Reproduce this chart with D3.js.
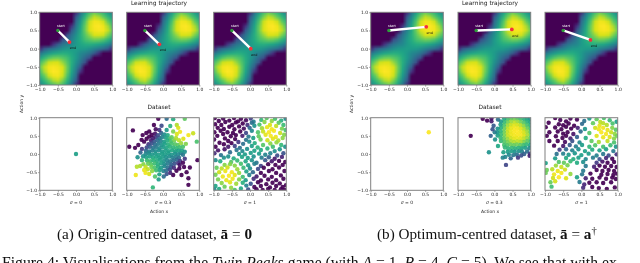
<!DOCTYPE html>
<html><head><meta charset="utf-8">
<script src="https://cdn.jsdelivr.net/npm/d3@7/dist/d3.min.js"></script>
<style>
html,body{margin:0;padding:0;background:#fff;overflow:hidden}
svg{display:block;filter:blur(0.3px)}
.ax text{font-family:"DejaVu Sans";font-size:4.5px;fill:#222}
.cap{font-family:"Liberation Serif";fill:#111}
.lab{font-family:"DejaVu Sans";fill:#222}
</style></head><body>
<svg id="c" width="640" height="263"></svg>
<script>
const tickValues=[-1,-0.5,0,0.5,1];
const upper=[
[0,0,0,0,0,0,0,0,12,38,56,69,76,70,65,55,45],
[0,0,0,0,0,0,0,0,28,48,66,80,91,87,76,67,55],
[0,0,0,0,0,0,0,0,35,54,73,92,98,97,92,76,65],
[0,0,0,0,0,0,0,14,40,59,77,94,99,100,97,87,70],
[0,0,0,0,0,0,0,28,45,61,78,94,98,99,98,91,76],
[0,0,0,0,0,0,24,38,50,63,74,84,94,94,92,80,69],
[0,0,0,0,0,24,33,43,54,62,70,74,78,77,73,66,56],
[0,0,0,14,28,38,43,47,54,59,62,63,61,59,54,48,38],
[12,28,35,40,45,50,54,55,56,55,54,50,45,40,35,28,12],
[38,48,54,59,61,63,62,59,54,47,43,38,28,14,0,0,0],
[56,66,73,77,78,74,70,62,54,43,33,24,0,0,0,0,0],
[69,80,92,94,94,84,74,63,50,38,24,0,0,0,0,0,0],
[76,91,98,99,98,94,78,61,45,28,0,0,0,0,0,0,0],
[70,87,97,100,99,94,77,59,40,14,0,0,0,0,0,0,0],
[65,76,92,97,98,92,73,54,35,0,0,0,0,0,0,0,0],
[55,67,76,87,91,80,66,48,28,0,0,0,0,0,0,0,0],
[45,55,65,70,76,69,56,38,12,0,0,0,0,0,0,0,0]];
const startPoint=[-0.5,0.5];
const endsLeft=[[-0.18,0.18],[-0.1,0.12],[0.02,0.0]];
const endsRight=[[0.53,0.6],[0.48,0.53],[0.25,0.24]];
const sigmaLabels=["0","0.3","1"];
const leftZero=[[0,0]];
const rightZero=[[0.6,0.6]];
const left03=[[-.2,.46],[-.1,.44],[-.02,.47],[.08,.45],[.18,.43],[-.33,.37],[-.24,.35],[-.15,.38],[-.06,.36],[.03,.34],[.12,.37],[.22,.35],[.31,.38],
[-.4,.27],[-.31,.29],[-.22,.26],[-.13,.28],[-.04,.25],[.05,.28],[.14,.26],[.24,.29],[.33,.27],[.41,.25],
[-.45,.18],[-.36,.2],[-.27,.17],[-.18,.19],[-.09,.16],[.01,.19],[.1,.17],[.19,.2],[.28,.18],[.37,.16],[.46,.19],
[-.47,.09],[-.38,.07],[-.29,.1],[-.2,.08],[-.11,.1],[-.02,.07],[.07,.09],[.16,.08],[.25,.1],[.34,.07],[.43,.09],
[-.48,0],[-.39,.02],[-.3,-.01],[-.21,.01],[-.12,-.02],[-.03,.01],[.06,-.01],[.15,.02],[.24,-.02],[.33,.01],[.42,-.01],[.5,.02],
[-.46,-.09],[-.37,-.07],[-.28,-.1],[-.19,-.08],[-.1,-.1],[-.01,-.08],[.08,-.09],[.17,-.07],[.26,-.1],[.35,-.08],[.44,-.1],
[-.44,-.18],[-.35,-.2],[-.26,-.17],[-.17,-.19],[-.08,-.16],[.02,-.19],[.11,-.17],[.2,-.2],[.29,-.18],[.38,-.16],[.47,-.19],
[-.41,-.27],[-.32,-.29],[-.23,-.26],[-.14,-.28],[-.05,-.25],[.04,-.28],[.13,-.26],[.23,-.29],[.32,-.27],[.42,-.25],
[-.32,-.36],[-.23,-.38],[-.14,-.35],[-.05,-.37],[.04,-.34],[.13,-.37],[.22,-.35],[.3,-.38],[-.19,-.45],[-.09,-.44],[.01,-.47],[.09,-.45],[.19,-.43],
[-.45,.42],[-.38,.48],[-.28,.44],[-.31,.53],[-.22,.56],[-.14,.52],[-.05,.58],[.04,.54],[.13,.52],[.24,.46],[.36,.44],[.44,.38],[.5,.3],
[-.52,.34],[-.59,.39],[-.56,.52],[-.68,.25],[-.77,.17],[-.93,.2],[-.83,.65],[-.58,.14],[-.62,.04],[-.55,-.06],[-.7,-.09],[-.58,-.17],[-.54,-.28],[-.48,-.36],[-.42,-.42],[-.72,-.35],[-.63,-.33],[-.75,-.58],[-.52,-.44],[-.48,-.52],[-.38,-.55],[-.3,-.47],
[-.28,-.92],[-.22,-.62],[-.1,-.56],[.02,-.62],[-.12,-.7],[.1,-.55],[.28,-.58],[.2,-.52],[.37,-.46],[.45,-.4],[.51,-.58],[.46,-.3],[.55,-.24],[.58,-.36],[.7,-.67],[.7,-.85],[.74,-.37],[.65,-.5],[.95,-.17],[.6,-.13],[.55,-.02],[.52,.1],[.6,.06],[.55,.2],[.63,.28],
[.93,.34],[.83,.57],[.7,.52],[.47,.61],[.56,.42],[.38,.55],[.1,.66],[.28,.62],[-.1,.66],[-.25,.8],[-.04,.78],[.2,.77],[.38,.8],[-.13,.97],[.1,.97],[.28,.96],[.6,.97],[-.38,.62],[-.46,.58],[-.2,.68],[.42,.72]];
const left1=[[-.97,.99],[-.86,.91],[-.74,.98],[-.57,.92],[-.44,.99],[-.33,.9],[-.25,.97],[-.11,.93],[.02,.98],[.1,.89],[.31,.94],[.46,.99],[.6,.91],[.69,.97],[.86,.92],[.98,.97],
[-.96,.82],[-.79,.8],[-.68,.88],[-.49,.8],[-.39,.87],[-.2,.84],[-.07,.8],[.05,.86],[.26,.81],[.4,.88],[.55,.8],[.79,.86],[.92,.8],
[-.89,.72],[-.72,.69],[-.57,.75],[-.43,.68],[-.3,.76],[-.17,.7],[-.01,.72],[.12,.78],[.33,.71],[.47,.74],[.6,.68],[.72,.77],[.88,.7],
[-.98,.6],[-.81,.64],[-.62,.6],[-.47,.58],[-.27,.62],[-.11,.58],[.05,.64],[.22,.6],[.36,.62],[.52,.6],[.66,.64],[.83,.58],[.98,.66],
[-.9,.5],[-.74,.55],[-.53,.49],[-.39,.52],[-.21,.5],[-.04,.48],[.24,.49],[.43,.53],[.57,.5],[.71,.47],[.94,.53],
[-.99,.4],[-.69,.43],[-.6,.36],[-.41,.41],[-.11,.39],[.09,.44],[.29,.4],[.48,.38],[.63,.42],[.78,.37],[.9,.44],
[-.84,.31],[-.72,.27],[-.51,.3],[-.32,.33],[-.19,.28],[-.02,.34],[.13,.3],[.56,.29],[.73,.32],[.86,.25],
[-.95,.2],[-.6,.2],[-.42,.22],[-.28,.17],[.05,.22],[.21,.18],[.36,.25],[.63,.2],[.97,.2],
[-.88,.1],[-.7,.13],[-.37,.11],[-.21,.08],[-.08,.14],[.12,.09],[.3,.11],[.48,.15],[.68,.08],[.82,.13],
[-.98,.02],[-.8,-.03],[-.55,.05],[-.3,0],[-.14,-.01],[.02,.03],[.25,.01],[.42,-.02],[.56,.02],[.75,-.04],[.92,.02],
[-.72,-.1],[-.6,-.07],[-.45,-.12],[-.22,-.08],[-.06,-.11],[.1,-.07],[.32,-.1],[.52,-.09],[.68,-.13],[.88,-.08],
[-.95,-.17],[-.82,-.2],[-.52,-.22],[-.35,-.18],[-.12,-.2],[.05,-.17],[.18,-.24],[.42,-.17],[.6,-.2],[.8,-.19],[.97,-.22],
[-.7,-.3],[-.55,-.28],[-.42,-.32],[-.25,-.27],[-.05,-.31],[.12,-.27],[.3,-.33],[.5,-.28],[.7,-.3],[.9,-.3],
[-.92,-.38],[-.78,-.4],[-.62,-.37],[-.35,-.42],[-.18,-.38],[0,-.4],[.22,-.41],[.38,-.38],[.62,-.42],[.8,-.37],
[-.85,-.5],[-.68,-.47],[-.5,-.5],[-.3,-.52],[-.1,-.48],[.08,-.5],[.3,-.52],[.52,-.47],[.72,-.52],[.95,-.47],
[-.95,-.57],[-.75,-.62],[-.58,-.6],[-.42,-.58],[-.2,-.63],[-.02,-.58],[.18,-.62],[.4,-.6],[.6,-.63],[.85,-.59],
[-.88,-.7],[-.65,-.72],[-.48,-.68],[-.3,-.7],[-.12,-.72],[.1,-.68],[.3,-.73],[.5,-.7],[.72,-.72],[.92,-.68],
[-.78,-.8],[-.55,-.78],[-.38,-.82],[-.2,-.79],[.02,-.82],[.22,-.78],[.45,-.83],[.62,-.79],[.82,-.81],
[-.95,-.88],[-.7,-.9],[-.52,-.93],[-.1,-.87],[.12,-.91],[.3,-.88],[.55,-.92],[.72,-.88],[.9,-.91],[.99,-.86],
[-.98,-.98],[-.85,-.96],[-.42,-.99],[-.25,-.95],[-.05,-.98],[.18,-.97],[.35,-.99],[.5,-.96],[.68,-.99],[.85,-.97],[.96,-.99]];
const right03=[[.98,.97],[.9,.98],[.82,.96],[.72,.97],[.63,.98],[.54,.96],[.45,.98],[.36,.96],[.27,.97],[.98,.88],[.9,.89],[.81,.87],[.72,.88],[.63,.89],[.54,.87],[.45,.89],[.36,.87],[.27,.88],[.18,.9],
[.98,.79],[.89,.8],[.8,.78],[.71,.79],[.62,.8],[.53,.78],[.44,.8],[.35,.78],[.26,.79],[.17,.81],[.99,.7],[.9,.71],[.81,.69],[.72,.7],[.63,.71],[.54,.69],[.45,.71],[.36,.69],[.27,.7],[.18,.72],[.09,.7],
[.98,.61],[.89,.62],[.8,.6],[.71,.61],[.62,.62],[.53,.6],[.44,.62],[.35,.6],[.26,.61],[.17,.63],[.08,.6],[.99,.52],[.9,.53],[.81,.51],[.72,.52],[.63,.53],[.54,.51],[.45,.53],[.36,.51],[.27,.52],[.18,.54],[.09,.51],
[.98,.43],[.89,.44],[.8,.42],[.71,.43],[.62,.44],[.53,.42],[.44,.44],[.35,.42],[.26,.43],[.17,.45],[.99,.34],[.9,.35],[.81,.33],[.72,.34],[.63,.35],[.54,.33],[.45,.35],[.36,.33],[.27,.34],[.18,.36],
[.98,.25],[.88,.26],[.8,.24],[.71,.25],[.62,.26],[.53,.24],[.44,.26],[.35,.24],[.27,.25],[.96,.16],[.85,.17],[.75,.15],[.66,.17],[.57,.15],[.48,.17],[.38,.15],[.29,.18],[.9,.07],[.76,.06],[.67,.08],[.56,.06],[.47,.08],[.37,.06],
[.25,.05],[.98,.01],[.82,.0],[.74,-.04],[.62,-.02],[.52,-.03],[.4,-.02],[.3,-.08],[.23,-.1],[.97,-.05],[.45,-.12],[.65,-.1],[.32,-.3],[.1,.22],[.02,.4],[.01,.6],[-.02,.78],[-.08,.9],[-.15,.05],[-.1,.5],[-.05,.68],[-.32,.97],[-.2,.92],[-.08,.98],[.1,.95],[-.65,.5]];
const right1=[[-.72,.99],[-.58,.94],[-.42,.9],[-.3,.98],[-.12,.95],[.08,.91],[.22,.98],[.42,.96],[.52,.88],[.62,.99],[.78,.93],[.97,.89],
[-.9,.86],[-.62,.82],[-.5,.79],[-.35,.84],[-.2,.78],[.02,.83],[.32,.85],[.5,.78],[.6,.85],[.7,.8],[.86,.84],
[-.98,.74],[-.72,.73],[-.55,.68],[-.42,.75],[-.28,.7],[-.1,.72],[.1,.69],[.38,.72],[.48,.68],[.6,.72],[.72,.66],[.85,.72],[.95,.67],
[-.88,.6],[-.65,.62],[-.5,.56],[-.38,.6],[-.22,.55],[-.02,.62],[.22,.58],[.55,.6],[.68,.55],[.82,.6],[.92,.55],
[-.95,.5],[-.7,.49],[-.52,.44],[-.42,.5],[-.3,.43],[-.12,.47],[.12,.44],[.42,.5],[.6,.46],[.78,.47],[.9,.43],[.98,.5],
[-.88,.36],[-.65,.36],[-.45,.33],[-.25,.36],[-.05,.32],[.28,.36],[.48,.33],[.72,.36],[.9,.32],
[-.75,.23],[-.5,.22],[-.32,.25],[-.15,.21],[.02,.25],[.22,.2],[.38,.24],[.6,.2],[.8,.24],[.95,.2],
[-.6,.12],[-.42,.13],[-.25,.1],[-.08,.13],[.1,.08],[.3,.12],[.5,.1],[.68,.13],[.88,.08],
[-.68,0],[-.5,.01],[-.35,-.02],[-.18,.02],[0,-.03],[.2,.01],[.42,-.04],[.6,0],[.75,-.04],[.97,-.01],
[-.72,-.12],[-.42,-.11],[-.22,-.14],[-.08,-.1],[.12,-.14],[.32,-.1],[.5,-.14],[.68,-.11],[.85,-.13],
[-.98,-.25],[-.62,-.22],[-.48,-.24],[-.3,-.2],[-.12,-.24],[.05,-.22],[.42,-.24],[.58,-.21],[.72,-.24],[.9,-.22],
[-.7,-.32],[-.55,-.36],[-.38,-.31],[.12,-.33],[.35,-.35],[.5,-.32],[.65,-.35],[.82,-.33],[.97,-.36],
[-.95,-.44],[-.8,-.42],[-.65,-.47],[-.45,-.43],[.05,-.46],[.42,-.44],[.58,-.47],[.75,-.44],[.9,-.47],
[-.98,-.52],[-.75,-.56],[-.55,-.52],[-.3,-.55],[.02,-.56],[.25,-.54],[.55,-.57],[.72,-.55],[.88,-.58],[.98,-.54],
[-.78,-.66],[-.62,-.64],[-.42,-.67],[-.12,-.64],[.12,-.67],[.3,-.68],[.5,-.65],[.68,-.68],[.85,-.65],[.95,-.69],
[-.85,-.78],[-.72,-.75],[-.05,-.77],[.08,-.84],[.22,-.79],[.42,-.78],[.6,-.8],[.82,-.78],
[-.82,-.9],[.05,-.93],[.3,-.91],[.48,-.94],[.7,-.96],[.92,-.92]];
const panelsX=[[39.7,112.3],[126.7,199.3],[213.7,286.3],[370.7,443.3],[458,530.7],[545,617.7]];
const topY=[12.3,85],botY=[117.7,190.3];
const scatterSets=[leftZero,left03,left1,rightZero,right03,right1];
const endSets=[...endsLeft,...endsRight];

const svg=d3.select("#c");
const color=d3.interpolateViridis;
const N=upper.length;
const gridIdx=d3.scaleLinear([-1,1],[0,N-1]);
const rowIdx=d3.scaleLinear([1,-1],[0,N-1]);
function valueAt(x,y){
  const fx=gridIdx(x),fy=rowIdx(y),i=Math.min(N-2,Math.floor(fx)),j=Math.min(N-2,Math.floor(fy)),a=fx-i,b=fy-j;
  return ((upper[j][i]*(1-a)+upper[j][i+1]*a)*(1-b)+(upper[j+1][i]*(1-a)+upper[j+1][i+1]*a)*b)/100;
}
const cv=document.createElement("canvas");cv.width=N;cv.height=N;
const ctx=cv.getContext("2d");
upper.forEach((r,j)=>r.forEach((v,i)=>{ctx.fillStyle=color(v/100);ctx.fillRect(i,j,1,1);}));
const url=cv.toDataURL();
const half=1/(N-1);
const defs=svg.append("defs");

function axes(g,x,y,h,showY){
  const ax=g.append("g").attr("class","ax").attr("transform",`translate(0,${y.range()[0]})`)
    .call(d3.axisBottom(x).tickValues(tickValues).tickFormat(d3.format(".1f")).tickSize(1.6).tickPadding(1));
  ax.select(".domain").remove();
  ax.selectAll("line").attr("stroke","#444").attr("stroke-width",.5);
  if(showY){
    const ay=g.append("g").attr("class","ax").attr("transform",`translate(${x.range()[0]},0)`)
      .call(d3.axisLeft(y).tickValues(tickValues).tickFormat(d3.format(".1f")).tickSize(1.6).tickPadding(1));
    ay.select(".domain").remove();
    ay.selectAll("line").attr("stroke","#444").attr("stroke-width",.5);
  }
  g.append("rect").attr("x",x.range()[0]).attr("y",y.range()[1]).attr("width",x.range()[1]-x.range()[0]).attr("height",y.range()[0]-y.range()[1])
   .attr("fill","none").attr("stroke","#808080").attr("stroke-width",1);
}
panelsX.forEach((px,k)=>{
  const x=d3.scaleLinear([-1,1],px);
  const y=d3.scaleLinear([-1,1],[topY[1],topY[0]]);
  const g=svg.append("g");
  const id="t"+k;
  defs.append("clipPath").attr("id",id).append("rect").attr("x",px[0]).attr("y",topY[0]).attr("width",px[1]-px[0]).attr("height",topY[1]-topY[0]);
  g.append("g").attr("clip-path",`url(#${id})`).append("image").attr("href",url)
   .attr("x",x(-1-half)).attr("y",y(1+half)).attr("width",x(1+half)-x(-1-half)).attr("height",y(-1-half)-y(1+half))
   .attr("preserveAspectRatio","none");
  const e=endSets[k];
  g.append("line").attr("x1",x(startPoint[0])).attr("y1",y(startPoint[1])).attr("x2",x(e[0])).attr("y2",y(e[1])).attr("stroke","#fff").attr("stroke-width",2.4);
  g.append("circle").attr("cx",x(startPoint[0])).attr("cy",y(startPoint[1])).attr("r",1.7).attr("fill","#2e9e3a");
  g.append("circle").attr("cx",x(e[0])).attr("cy",y(e[1])).attr("r",1.9).attr("fill","#f5303a");
  g.append("text").attr("class","lab").attr("x",x(startPoint[0])+3).attr("y",y(startPoint[1])-3.5).attr("text-anchor","middle").attr("font-size",3.4).style("fill","#fff").text("start");
  g.append("text").attr("class","lab").attr("x",x(e[0])+3.5).attr("y",y(e[1])+7.2).attr("text-anchor","middle").attr("font-size",3.4).style("fill","#111").text("end");
  axes(g,x,y,0,k===0||k===3);

  const yb=d3.scaleLinear([-1,1],[botY[1],botY[0]]);
  const gb=svg.append("g");
  const idb="b"+k;
  defs.append("clipPath").attr("id",idb).append("rect").attr("x",px[0]).attr("y",botY[0]).attr("width",px[1]-px[0]).attr("height",botY[1]-botY[0]);
  gb.append("g").attr("clip-path",`url(#${idb})`).selectAll("circle").data(scatterSets[k]).join("circle")
    .attr("cx",d=>x(d[0])).attr("cy",d=>yb(d[1])).attr("r",2.2).attr("fill",d=>color(valueAt(d[0],d[1]))).attr("fill-opacity",.92);
  axes(gb,x,yb,0,k===0||k===3);
  const s=gb.append("text").attr("class","lab").attr("x",(px[0]+px[1])/2).attr("y",204).attr("text-anchor","middle").attr("font-size",4.5);
  s.append("tspan").attr("font-style","italic").text("σ");
  s.append("tspan").text(" = "+sigmaLabels[k%3]);
});
[[159,22.5],[490,352.7]].forEach(([cx,ax])=>{
  svg.append("text").attr("class","lab").attr("x",cx).attr("y",5).attr("text-anchor","middle").attr("font-size",5.9).text("Learning trajectory");
  svg.append("text").attr("class","lab").attr("x",cx).attr("y",108.5).attr("text-anchor","middle").attr("font-size",5.9).text("Dataset");
  svg.append("text").attr("class","lab").attr("x",cx).attr("y",213).attr("text-anchor","middle").attr("font-size",4.5).text("Action x");
  svg.append("text").attr("class","lab").attr("transform",`translate(${ax},104) rotate(-90)`).attr("text-anchor","middle").attr("font-size",4.5).text("Action y");
});
function rich(x,y,size,parts){
  const t=svg.append("text").attr("class","cap").attr("x",x).attr("y",y).attr("font-size",size);
  parts.forEach(p=>{const s=t.append("tspan").text(p[0]);
    if(p[1]==="i")s.attr("font-style","italic");
    if(p[1]==="b")s.attr("font-weight","bold");
    if(p[1]==="sup")s.attr("dy",-5).attr("font-size",size*.7);});
}
rich(57,238.5,15.2,[["(a) Origin-centred dataset, "],["ā","b"],[" = "],["0","b"]]);
rich(377,238.5,15.2,[["(b) Optimum-centred dataset, "],["ā","b"],[" = "],["a","b"],["†","sup"]]);
rich(2,267.5,15.7,[["Figure 4: Visualisations from the "],["Twin Peaks","i"],[" game (with "],["A","i"],[" = 1, "],["B","i"],[" = 4, "],["C","i"],[" = 5). We see that with ex"]]);
</script></body></html>
